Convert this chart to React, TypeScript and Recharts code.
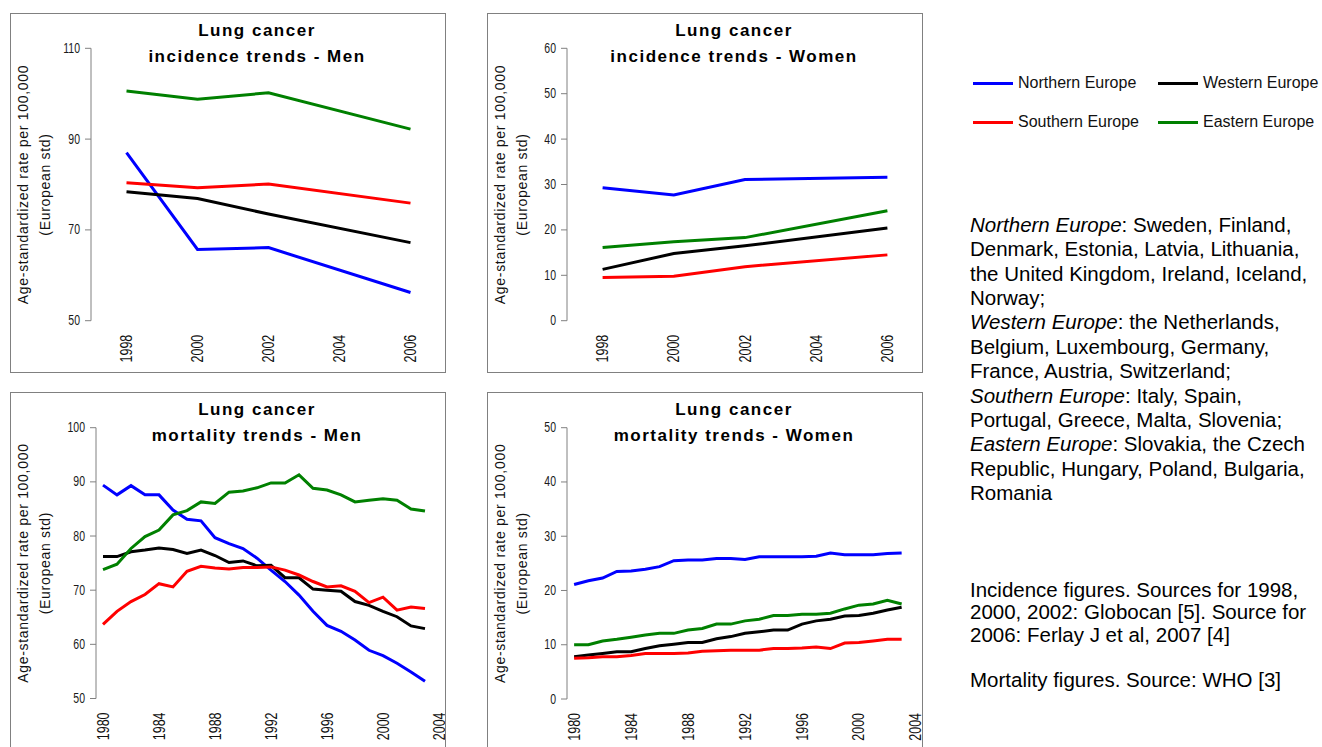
import React from "react";
import { LineChart, Line, XAxis, YAxis } from "recharts";

const SANS = "'Liberation Sans', Arial, sans-serif";

// series keys / colours
const regionKeys = ["north", "west", "south", "east"];
const regionNames = ["Northern Europe", "Western Europe", "Southern Europe", "Eastern Europe"];
const regionColors = ["#0000ff", "#000000", "#ff0000", "#008000"];

// incidence (Globocan 1998/2000/2002, Ferlay 2006)
const incidenceYears = [1998, 2000, 2002, 2006];
const incMenNorth = [87.0, 65.7, 66.1, 56.2];
const incMenWest = [78.4, 76.9, 73.5, 67.2];
const incMenSouth = [80.4, 79.3, 80.1, 75.9];
const incMenEast = [100.6, 98.8, 100.2, 92.2];

const incWomenNorth = [29.3, 27.7, 31.1, 31.6];
const incWomenWest = [11.3, 14.8, 16.5, 20.4];
const incWomenSouth = [9.5, 9.8, 11.9, 14.5];
const incWomenEast = [16.1, 17.4, 18.3, 24.2];

// mortality (WHO)
const mortalityYears = [
  1980, 1981, 1982, 1983, 1984, 1985, 1986, 1987, 1988, 1989, 1990, 1991,
  1992, 1993, 1994, 1995, 1996, 1997, 1998, 1999, 2000, 2001, 2002, 2003,
];
const mortMenNorth = [89.4, 87.6, 89.3, 87.6, 87.6, 84.8, 83.1, 82.8, 79.7, 78.6, 77.7, 75.9, 73.7, 71.6, 69.1, 66.1, 63.5, 62.4, 60.8, 58.9, 57.9, 56.5, 54.9, 53.2];
const mortMenWest = [76.2, 76.2, 77.1, 77.4, 77.8, 77.5, 76.8, 77.4, 76.4, 75.1, 75.4, 74.5, 74.6, 72.3, 72.3, 70.2, 70.0, 69.8, 67.9, 67.2, 66.1, 65.1, 63.4, 62.9];
const mortMenSouth = [63.7, 66.1, 67.9, 69.2, 71.2, 70.6, 73.5, 74.4, 74.1, 73.9, 74.2, 74.2, 74.3, 73.7, 72.8, 71.6, 70.6, 70.8, 69.8, 67.7, 68.7, 66.3, 66.9, 66.6];
const mortMenEast = [73.8, 74.8, 77.7, 79.9, 81.1, 83.9, 84.7, 86.3, 86.0, 88.1, 88.3, 88.9, 89.8, 89.8, 91.3, 88.8, 88.5, 87.6, 86.3, 86.6, 86.9, 86.6, 85.0, 84.6];

const mortWomenNorth = [21.1, 21.8, 22.3, 23.5, 23.6, 23.9, 24.4, 25.5, 25.6, 25.6, 25.9, 25.9, 25.7, 26.2, 26.2, 26.2, 26.2, 26.3, 26.9, 26.6, 26.6, 26.6, 26.8, 26.9];
const mortWomenWest = [7.8, 8.1, 8.4, 8.7, 8.7, 9.3, 9.8, 10.1, 10.4, 10.4, 11.1, 11.5, 12.1, 12.4, 12.7, 12.7, 13.8, 14.4, 14.7, 15.3, 15.4, 15.8, 16.4, 16.9];
const mortWomenSouth = [7.5, 7.6, 7.8, 7.8, 8.0, 8.4, 8.4, 8.4, 8.5, 8.8, 8.9, 9.0, 9.0, 9.0, 9.3, 9.3, 9.4, 9.6, 9.3, 10.3, 10.4, 10.7, 11.0, 11.0];
const mortWomenEast = [10.0, 10.0, 10.7, 11.0, 11.4, 11.8, 12.1, 12.1, 12.7, 13.0, 13.8, 13.8, 14.4, 14.7, 15.4, 15.4, 15.6, 15.6, 15.8, 16.6, 17.3, 17.5, 18.2, 17.5];

// axis ticks
const incidenceLabelTicks = [1998, 2000, 2002, 2004, 2006];
const incidenceMarkTicks = [1997, 1999, 2001, 2003, 2005, 2007];
const mortalityLabelTicks = [1980, 1984, 1988, 1992, 1996, 2000, 2004];
const mortalityMarkTicks = Array.from({ length: 26 }, (_, i) => 1979.5 + i);

const yLabelLine1 = "Age-standardized rate per 100,000";
const yLabelLine2 = "(European std)";

function toRows(years: number[], series: number[][]) {
  return years.map((year, i) => {
    const row: any = { year };
    regionKeys.forEach((k, s) => {
      row[k] = series[s][i];
    });
    return row;
  });
}

// condensed look of the original Excel labels
const YearTick = (props: any) => {
  const { x, y, payload } = props;
  return (
    <text
      transform={`translate(${x},${y + 14}) rotate(-90) scale(0.78,1)`}
      textAnchor="end"
      dominantBaseline="central"
      fontSize={16}
      fontFamily={SANS}
      fill="#111"
    >
      {payload.value}
    </text>
  );
};

const ValueTick = (props: any) => {
  const { x, y, payload } = props;
  return (
    <text
      transform={`translate(${x},${y}) scale(0.75,1)`}
      textAnchor="end"
      dominantBaseline="central"
      fontSize={14}
      fontFamily={SANS}
      fill="#1a1a1a"
    >
      {payload.value}
    </text>
  );
};

interface PanelProps {
  left: number;
  top: number;
  height: number;
  title1: string;
  title2: string;
  rows: any[];
  xDomain: [number, number];
  markTicks: number[];
  labelTicks: number[];
  yDomain: [number, number];
  yTicks: number[];
  yAxisWidth: number;
  plotTop: number;
  labelAxisHeight: number;
}

function Panel(p: PanelProps) {
  const width = 436;
  const spill = 12; // room for the last rotated label past the frame
  const plotHeight = p.height - p.plotTop - p.labelAxisHeight;
  const labelCenter = p.plotTop + plotHeight / 2;

  return (
    <div style={{ position: "absolute", left: p.left, top: p.top, width, height: p.height }}>
      <LineChart
        width={width + spill}
        height={p.height}
        data={p.rows}
        margin={{ top: p.plotTop, right: spill, bottom: 0, left: 0 }}
      >
        <XAxis
          xAxisId="mark"
          type="number"
          dataKey="year"
          domain={p.xDomain}
          ticks={p.markTicks}
          interval={0}
          tick={false}
          tickSize={5}
          height={0}
          stroke="#808080"
          allowDataOverflow
        />
        <XAxis
          xAxisId="lab"
          type="number"
          dataKey="year"
          domain={p.xDomain}
          ticks={p.labelTicks}
          interval={0}
          axisLine={false}
          tickLine={false}
          tickSize={0}
          tickMargin={0}
          height={p.labelAxisHeight}
          tick={<YearTick />}
          allowDataOverflow
        />
        <YAxis
          type="number"
          domain={p.yDomain}
          ticks={p.yTicks}
          interval={0}
          width={p.yAxisWidth}
          tickSize={6}
          tickMargin={5}
          stroke="#808080"
          tick={<ValueTick />}
          allowDataOverflow
        />
        {regionKeys.map((k, i) => (
          <Line
            key={k}
            xAxisId="lab"
            dataKey={k}
            name={regionNames[i]}
            stroke={regionColors[i]}
            strokeWidth={3}
            dot={false}
            activeDot={false}
            isAnimationActive={false}
          />
        ))}
      </LineChart>

      <svg
        width={width}
        height={p.height}
        style={{ position: "absolute", left: 0, top: 0, pointerEvents: "none" }}
      >
        <text
          transform={`translate(18,${labelCenter}) rotate(-90)`}
          textAnchor="middle"
          fontSize={14}
          letterSpacing={0.7}
          fontFamily={SANS}
          fill="#111"
        >
          {yLabelLine1}
        </text>
        <text
          transform={`translate(39.5,${labelCenter}) rotate(-90)`}
          textAnchor="middle"
          fontSize={14}
          letterSpacing={0.7}
          fontFamily={SANS}
          fill="#111"
        >
          {yLabelLine2}
        </text>
      </svg>

      <div
        style={{
          position: "absolute",
          left: 0,
          top: 5,
          width: 494,
          textAlign: "center",
          fontFamily: SANS,
          fontWeight: "bold",
          fontSize: 17,
          letterSpacing: 1.5,
          lineHeight: "25.5px",
          color: "#000",
          whiteSpace: "nowrap",
        }}
      >
        <div>{p.title1}</div>
        <div>{p.title2}</div>
      </div>

      <div
        style={{
          position: "absolute",
          left: 0,
          top: 0,
          width,
          height: p.height,
          border: "1px solid #808080",
          boxSizing: "border-box",
          pointerEvents: "none",
        }}
      />
    </div>
  );
}

const LegendItem = ({ i, left, top }: { i: number; left: number; top: number }) => (
  <div style={{ position: "absolute", left, top: top - 10, height: 20, display: "flex", alignItems: "center", whiteSpace: "nowrap" }}>
    <div style={{ width: 40, height: 3, background: regionColors[i], marginRight: 5 }} />
    <span style={{ fontSize: 16, fontFamily: SANS, color: "#111" }}>{regionNames[i]}</span>
  </div>
);

export default function App() {
  const incMen = toRows(incidenceYears, [incMenNorth, incMenWest, incMenSouth, incMenEast]);
  const incWomen = toRows(incidenceYears, [incWomenNorth, incWomenWest, incWomenSouth, incWomenEast]);
  const mortMen = toRows(mortalityYears, [mortMenNorth, mortMenWest, mortMenSouth, mortMenEast]);
  const mortWomen = toRows(mortalityYears, [mortWomenNorth, mortWomenWest, mortWomenSouth, mortWomenEast]);

  const textStyle: React.CSSProperties = {
    position: "absolute",
    left: 970,
    fontFamily: SANS,
    fontSize: 20.5,
    color: "#000",
    whiteSpace: "nowrap",
  };

  return (
    <div
      style={{
        position: "absolute",
        left: 0,
        top: 0,
        width: 1322,
        height: 747,
        overflow: "hidden",
        background: "#fff",
      }}
    >
      <Panel
        left={10}
        top={13}
        height={360}
        title1="Lung cancer"
        title2="incidence trends - Men"
        rows={incMen}
        xDomain={[1997, 2007]}
        markTicks={incidenceMarkTicks}
        labelTicks={incidenceLabelTicks}
        yDomain={[50, 110]}
        yTicks={[50, 70, 90, 110]}
        yAxisWidth={81}
        plotTop={35.3}
        labelAxisHeight={52.3}
      />
      <Panel
        left={487}
        top={13}
        height={360}
        title1="Lung cancer"
        title2="incidence trends - Women"
        rows={incWomen}
        xDomain={[1997, 2007]}
        markTicks={incidenceMarkTicks}
        labelTicks={incidenceLabelTicks}
        yDomain={[0, 60]}
        yTicks={[0, 10, 20, 30, 40, 50, 60]}
        yAxisWidth={80}
        plotTop={35.3}
        labelAxisHeight={52.3}
      />
      <Panel
        left={10}
        top={392}
        height={370}
        title1="Lung cancer"
        title2="mortality trends - Men"
        rows={mortMen}
        xDomain={[1979.5, 2004.5]}
        markTicks={mortalityMarkTicks}
        labelTicks={mortalityLabelTicks}
        yDomain={[50, 100]}
        yTicks={[50, 60, 70, 80, 90, 100]}
        yAxisWidth={86}
        plotTop={35.7}
        labelAxisHeight={63.5}
      />
      <Panel
        left={487}
        top={392}
        height={370}
        title1="Lung cancer"
        title2="mortality trends - Women"
        rows={mortWomen}
        xDomain={[1979.5, 2004.5]}
        markTicks={mortalityMarkTicks}
        labelTicks={mortalityLabelTicks}
        yDomain={[0, 50]}
        yTicks={[0, 10, 20, 30, 40, 50]}
        yAxisWidth={80}
        plotTop={35.7}
        labelAxisHeight={63}
      />

      <LegendItem i={0} left={973} top={83} />
      <LegendItem i={1} left={1158} top={83} />
      <LegendItem i={2} left={973} top={122} />
      <LegendItem i={3} left={1158} top={122} />

      <div style={{ ...textStyle, top: 212.8, lineHeight: "24.4px" }}>
        <div><i>Northern Europe</i>: Sweden, Finland,</div>
        <div>Denmark, Estonia, Latvia, Lithuania,</div>
        <div>the United Kingdom, Ireland, Iceland,</div>
        <div>Norway;</div>
        <div><i>Western Europe</i>: the Netherlands,</div>
        <div>Belgium, Luxembourg, Germany,</div>
        <div>France, Austria, Switzerland;</div>
        <div><i>Southern Europe</i>: Italy, Spain,</div>
        <div>Portugal, Greece, Malta, Slovenia;</div>
        <div><i>Eastern Europe</i>: Slovakia, the Czech</div>
        <div>Republic, Hungary, Poland, Bulgaria,</div>
        <div>Romania</div>
      </div>

      <div style={{ ...textStyle, top: 578.8, lineHeight: "22.5px" }}>
        <div>Incidence figures. Sources for 1998,</div>
        <div>2000, 2002: Globocan [5]. Source for</div>
        <div>2006: Ferlay J et al, 2007 [4]</div>
        <div>&nbsp;</div>
        <div>Mortality figures. Source: WHO [3]</div>
      </div>
    </div>
  );
}
